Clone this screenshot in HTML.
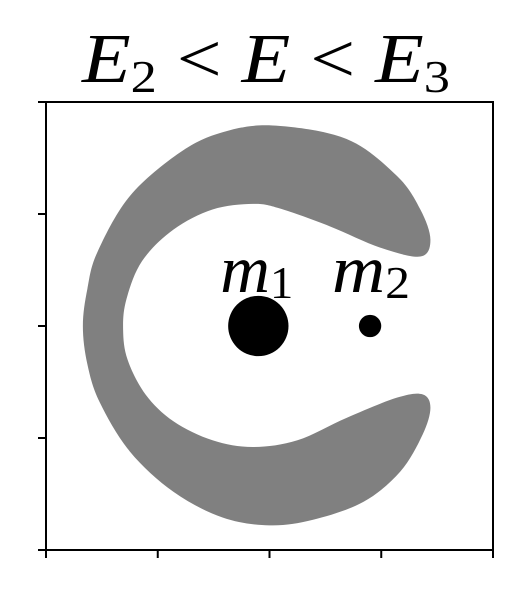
<!DOCTYPE html>
<html><head><meta charset="utf-8"><style>
html,body{margin:0;padding:0;background:#fff;width:523px;height:595px;overflow:hidden}
svg text{font-family:"Liberation Serif",serif}
</style></head><body>
<svg width="523" height="595" viewBox="0 0 523 595">
<g id="plot"></g>
<text x="82" y="82" font-size="70" font-style="italic" textLength="368" lengthAdjust="spacingAndGlyphs">E<tspan font-style="normal" font-size="46" dy="10">2</tspan><tspan dy="-10" font-style="normal"> &lt; </tspan>E<tspan font-style="normal"> &lt; </tspan>E<tspan font-style="normal" font-size="46" dy="10">3</tspan></text>
</svg>
<script>
const xTicks=[-2,-1,0,1,2];
const yTicks=[-2,-1,0,1,2];
const bodyNames=["m1","m2"];
const bodyX=[-0.1,0.9];
const bodyY=[0,0];
const bodyR=[0.27,0.1];
const regionX=[0.03,0.69,1.14,1.35,1.44,1.35,0.99,0.54,0.09,-0.15,-0.51,-0.86,-1.14,-1.28,-1.31,-1.27,-1.11,-0.86,-0.51,-0.15,0.25,0.69,1.14,1.37,1.44,1.37,1.17,0.84,0.39,0.00,-0.42,-0.86,-1.25,-1.52,-1.63,-1.67,-1.63,-1.54,-1.25,-0.80,-0.42];
const regionY=[1.79,1.67,1.34,1.04,0.77,0.62,0.70,0.89,1.05,1.09,1.04,0.86,0.58,0.24,-0.03,-0.30,-0.61,-0.85,-1.02,-1.08,-1.02,-0.82,-0.64,-0.61,-0.73,-0.97,-1.30,-1.57,-1.73,-1.78,-1.71,-1.48,-1.12,-0.68,-0.34,0.00,0.33,0.66,1.16,1.55,1.73];
const X0=46,X1=493,Y0=102,Y1=550;
const sx=v=>X0+(v+2)/4*(X1-X0);
const sy=v=>Y1-(v+2)/4*(Y1-Y0);
const NS="http://www.w3.org/2000/svg";
const g=document.getElementById('plot');
function mk(t,a){const e=document.createElementNS(NS,t);for(const k in a)e.setAttribute(k,a[k]);g.appendChild(e);return e;}
const P=regionX.map((x,i)=>[sx(x),sy(regionY[i])]);
const n=P.length;let d=`M${P[0][0]},${P[0][1]}`;
for(let i=0;i<n;i++){const p0=P[(i-1+n)%n],p1=P[i],p2=P[(i+1)%n],p3=P[(i+2)%n];
d+=`C${p1[0]+(p2[0]-p0[0])/6},${p1[1]+(p2[1]-p0[1])/6} ${p2[0]-(p3[0]-p1[0])/6},${p2[1]-(p3[1]-p1[1])/6} ${p2[0]},${p2[1]}`;}
const reg=mk('path',{d:d+'Z',fill:'#808080'});


bodyX.forEach((x,i)=>{
const c=mk('circle',{cx:sx(x),cy:sy(bodyY[i]),r:bodyR[i]*(X1-X0)/4,fill:'#000'});


const t=mk('text',{x:sx(x)-38,y:292,'font-size':68,'font-style':'italic',textLength:(i?78:73),lengthAdjust:'spacingAndGlyphs'});
t.innerHTML='m<tspan font-style="normal" font-size="46" dy="6">'+(i+1)+'</tspan>';


});
const fr=mk('rect',{x:X0,y:Y0,width:X1-X0,height:Y1-Y0,fill:'none',stroke:'#000','stroke-width':2});


xTicks.forEach(v=>{const l=mk('line',{x1:sx(v),x2:sx(v),y1:Y1,y2:Y1+8,stroke:'#000','stroke-width':2});

});
yTicks.forEach(v=>{const l=mk('line',{x1:X0-8,x2:X0,y1:sy(v),y2:sy(v),stroke:'#000','stroke-width':2});

});
</script>
</body></html>
